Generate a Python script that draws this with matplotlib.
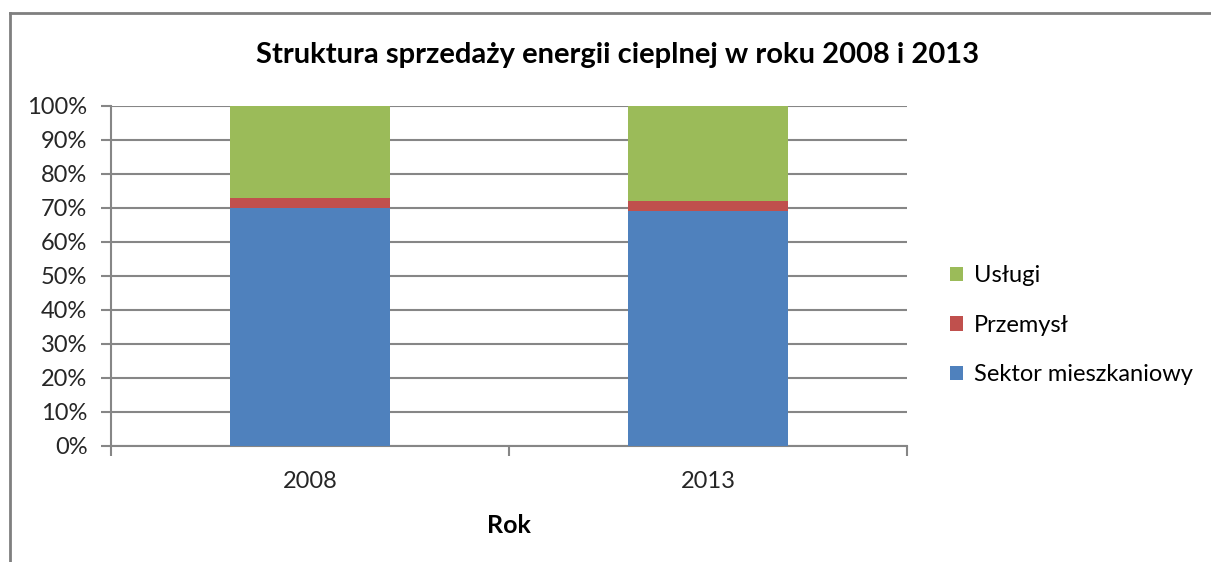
import matplotlib
matplotlib.use('Agg')
import matplotlib.pyplot as plt
from matplotlib.ticker import PercentFormatter
import numpy as np

plt.rcParams['font.family'] = ['Lato', 'DejaVu Sans']

# dane (udział w %)
years = ["2008", "2013"]
mieszkaniowy = [70.0, 69.0]
przemysl = [3.0, 3.1]
uslugi = [27.0, 27.9]

c_blue = "#4F81BD"
c_red = "#C0504D"
c_green = "#9BBB59"
c_grid = "#868686"

fig = plt.figure(figsize=(12.11, 5.62), dpi=100)
ax = fig.add_axes([111 / 1211, 1 - 446 / 562, 796 / 1211, 340 / 562])

x = np.arange(len(years))
w = 0.4
b1 = ax.bar(x, mieszkaniowy, w, color=c_blue, label="Sektor mieszkaniowy", zorder=3)
b2 = ax.bar(x, przemysl, w, bottom=mieszkaniowy, color=c_red, label="Przemysł", zorder=3)
bottom2 = np.array(mieszkaniowy) + np.array(przemysl)
b3 = ax.bar(x, uslugi, w, bottom=bottom2, color=c_green, label="Usługi", zorder=3)

ax.set_xlim(-0.5, 1.5)
ax.set_ylim(0, 100)
ax.set_yticks(np.arange(0, 101, 10))
ax.yaxis.set_major_formatter(PercentFormatter(decimals=0))
ax.yaxis.grid(True, color=c_grid, linewidth=1.5, zorder=0)

# ticki osi x na granicach kategorii
ax.set_xticks([-0.5, 0.5, 1.5])
ax.set_xticklabels([])
ax.set_xticks(x, minor=True)
ax.set_xticklabels(years, minor=True)
ax.tick_params(axis='x', which='minor', length=0, labelsize=17, pad=18, colors="#262626")
ax.tick_params(axis='x', which='major', length=7, width=1.5, color=c_grid)
ax.tick_params(axis='y', length=7, width=1.5, color=c_grid, labelsize=17, pad=10, labelcolor="#262626")

for s in ["top", "right"]:
    ax.spines[s].set_visible(False)
for s in ["left", "bottom"]:
    ax.spines[s].set_color(c_grid)
    ax.spines[s].set_linewidth(1.5)

ax.set_xlabel("Rok", fontsize=18, fontweight="bold", labelpad=16)
fig.text(618 / 1211, 1 - 55 / 562, "Struktura sprzedaży energii cieplnej w roku 2008 i 2013",
         ha="center", va="center", fontsize=21, fontweight="bold")

ax.legend(handles=[b3, b2, b1], loc="center left", bbox_to_anchor=(1.054, 0.355),
          frameon=False, fontsize=17, handlelength=0.55, handleheight=0.55,
          handletextpad=0.45, labelspacing=1.2, borderaxespad=0, borderpad=0)

# ramka wykresu
fig.add_artist(plt.Line2D([10 / 1211, 10 / 1211], [0, 1 - 13 / 562], color="#7f7f7f", lw=2))
fig.add_artist(plt.Line2D([10 / 1211, 1], [1 - 13 / 562, 1 - 13 / 562], color="#7f7f7f", lw=2))

fig.savefig("out.png", dpi=100)
